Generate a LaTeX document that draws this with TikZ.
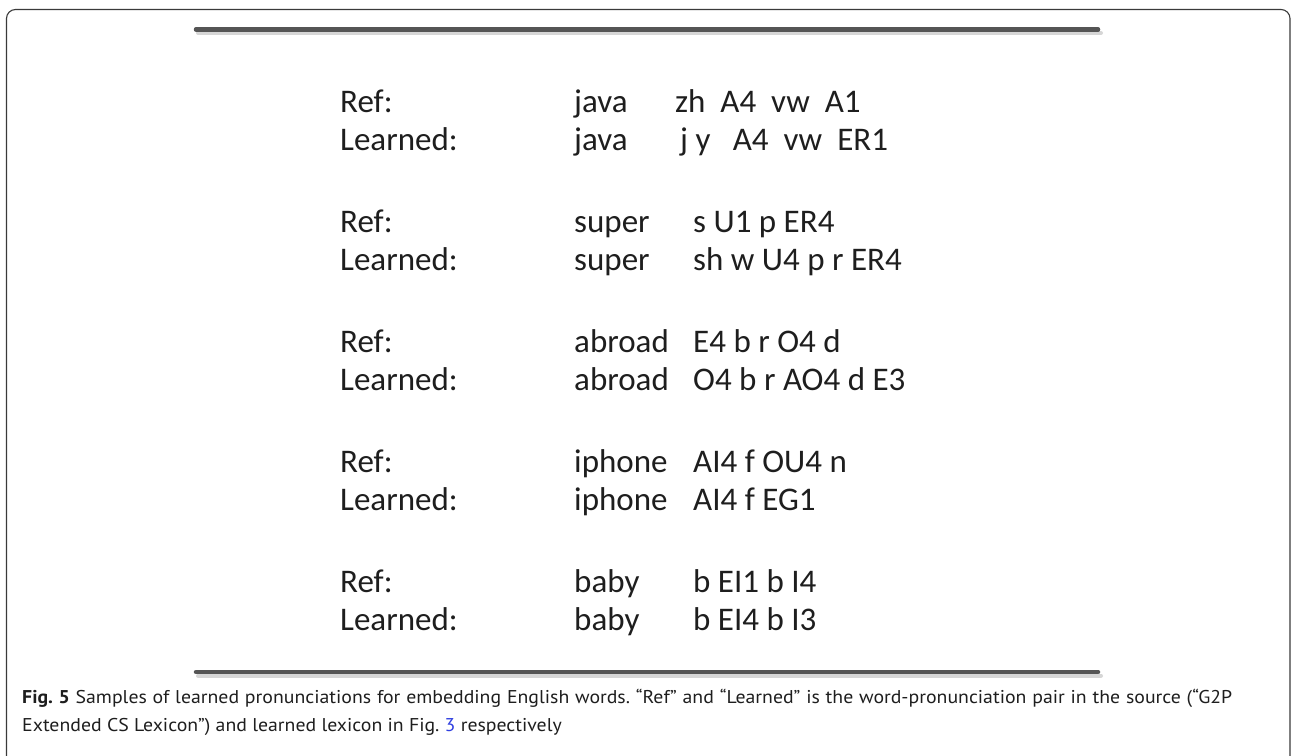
\documentclass[tikz,border=0pt]{standalone}
\usepackage{fontspec}
\setmainfont{Carlito}
\newfontfamily\capfont[FakeStretch=1.07]{PT Sans}
\definecolor{rulegray}{HTML}{555555}
\definecolor{shadegray}{HTML}{D6D6D6}
\definecolor{framecol}{HTML}{3A3A3A}
\definecolor{textcol}{HTML}{1E1E1E}
\definecolor{linkblue}{HTML}{2F3FE0}
\tikzset{
  rowtext/.style={anchor=base west, inner sep=0pt, text=textcol, font=\fontsize{33}{40}\selectfont},
  captext/.style={anchor=base west, inner sep=0pt, text=textcol, font=\capfont\fontsize{18.5}{27}\selectfont\frenchspacing},
  mainrule/.style={draw=rulegray, line width=4.5pt, line cap=round},
  shaderule/.style={draw=shadegray, line width=4pt, line cap=round}
}
\begin{document}
\begin{tikzpicture}[x=1pt,y=-1pt]
\useasboundingbox (0,0) rectangle (1292,755);
% outer frame (open at the bottom)
\draw[framecol, line width=1.1pt, rounded corners=9pt] (6.5,790) -- (6.5,9.5) -- (1290,9.5) -- (1290,790);
% top rule
\coordinate (tA) at (196,29.5);
\coordinate (tB) at (1098,29.5);
\coordinate (tAs) at (198,33);
\coordinate (tBs) at (1101,33);
\draw[shaderule] (tAs) -- (tBs);
\draw[mainrule] (tA) -- (tB);
% bottom rule
\coordinate (bA) at (196,672);
\coordinate (bB) at (1098,672);
\coordinate (bAs) at (198,675.5);
\coordinate (bBs) at (1101,675.5);
\draw[shaderule] (bAs) -- (bBs);
\draw[mainrule] (bA) -- (bB);
% rows
\node[rowtext] (l1a) at (340,112) {Ref:};
\node[rowtext] (w1a) at (574,112) {java};
\node[rowtext] (p1a) at (675,112) {zh\ \ A4\ \ vw\ \ A1};
\node[rowtext] (l1b) at (340,150) {Learned:};
\node[rowtext] (w1b) at (574,150) {java};
\node[rowtext] (p1b) at (680,150) {j y\ \ \ A4\ \ vw\ \ ER1};
\node[rowtext] (l2a) at (340,232) {Ref:};
\node[rowtext] (w2a) at (574,232) {super};
\node[rowtext] (p2a) at (693,232) {s U1 p ER4};
\node[rowtext] (l2b) at (340,270) {Learned:};
\node[rowtext] (w2b) at (574,270) {super};
\node[rowtext] (p2b) at (693,270) {sh w U4 p r ER4};
\node[rowtext] (l3a) at (340,352) {Ref:};
\node[rowtext] (w3a) at (574,352) {abroad};
\node[rowtext] (p3a) at (693,352) {E4 b r O4 d};
\node[rowtext] (l3b) at (340,390) {Learned:};
\node[rowtext] (w3b) at (574,390) {abroad};
\node[rowtext] (p3b) at (693,390) {O4 b r AO4 d E3};
\node[rowtext] (l4a) at (340,472) {Ref:};
\node[rowtext] (w4a) at (574,472) {iphone};
\node[rowtext] (p4a) at (693,472) {AI4 f OU4 n};
\node[rowtext] (l4b) at (340,510) {Learned:};
\node[rowtext] (w4b) at (574,510) {iphone};
\node[rowtext] (p4b) at (693,510) {AI4 f EG1};
\node[rowtext] (l5a) at (340,592) {Ref:};
\node[rowtext] (w5a) at (574,592) {baby};
\node[rowtext] (p5a) at (693,592) {b EI1 b I4};
\node[rowtext] (l5b) at (340,630) {Learned:};
\node[rowtext] (w5b) at (574,630) {baby};
\node[rowtext] (p5b) at (693,630) {b EI4 b I3};
% caption
\node[captext] (cap1) at (22,703) {\makebox[1210pt][s]{\textbf{Fig. 5} Samples of learned pronunciations for embedding English words. “Ref” and “Learned” is the word-pronunciation pair in the source (“G2P}};
\node[captext] (cap2) at (22,731) {Extended CS Lexicon”) and learned lexicon in Fig. \textcolor{linkblue}{3} respectively};
\end{tikzpicture}
\end{document}
